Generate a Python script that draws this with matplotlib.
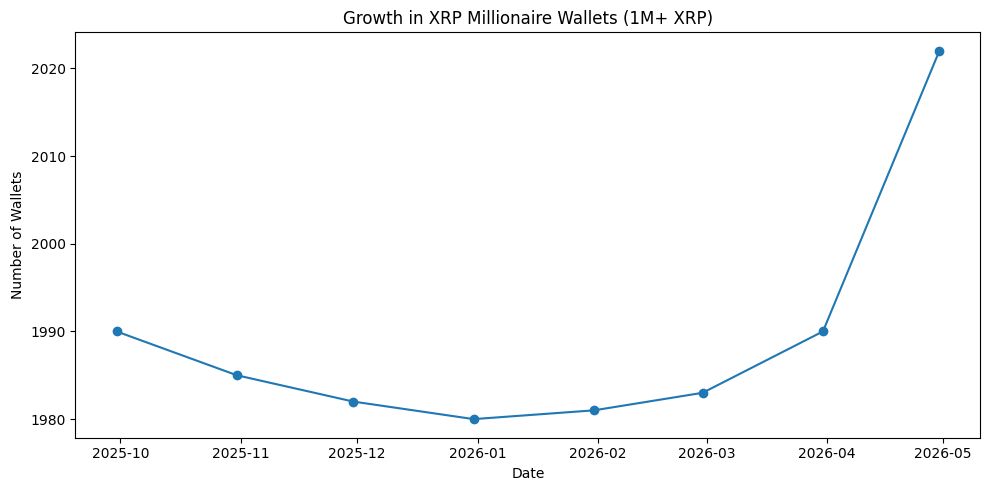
import matplotlib
matplotlib.use("Agg")
import matplotlib.pyplot as plt
import pandas as pd

dates = ["2025-09-30", "2025-10-31", "2025-11-30", "2025-12-31",
         "2026-01-31", "2026-02-28", "2026-03-31", "2026-04-30"]
wallets = [1990, 1985, 1982, 1980, 1981, 1983, 1990, 2022]

x = pd.to_datetime(dates)

fig, ax = plt.subplots(figsize=(9.89, 4.9), dpi=100)
ax.plot(x, wallets, marker="o", color="#1f77b4")
ax.set_title("Growth in XRP Millionaire Wallets (1M+ XRP)")
ax.set_xlabel("Date")
ax.set_ylabel("Number of Wallets")
fig.subplots_adjust(left=0.0763, right=0.9914, top=0.9337, bottom=0.1071)
fig.savefig("out.png", dpi=100)
